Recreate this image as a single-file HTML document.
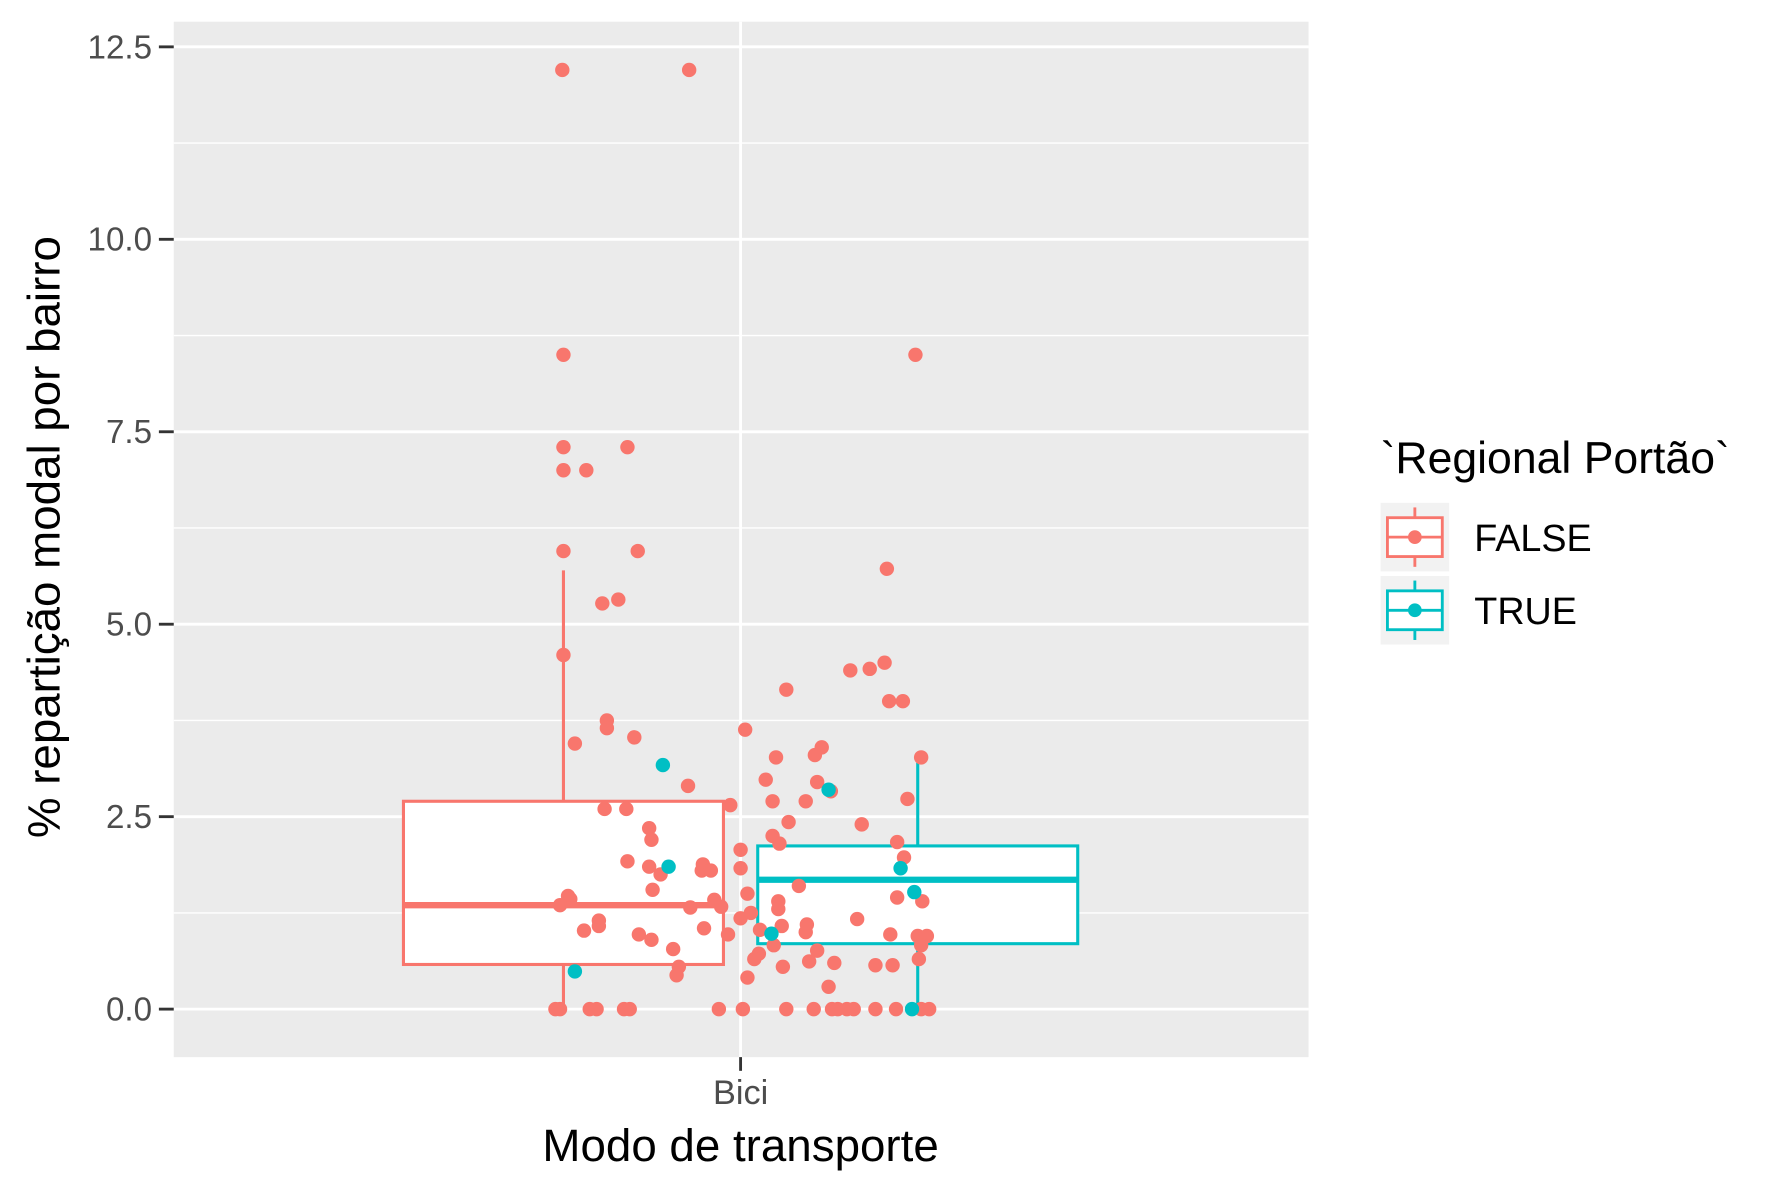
<!DOCTYPE html>
<html><head><meta charset="utf-8"><style>
html,body{margin:0;padding:0;background:#fff;}
svg{display:block;font-family:"Liberation Sans",Arial,sans-serif;}
</style></head><body>
<svg id="chart" width="1771" height="1181" viewBox="0 0 1549.6 1033.4" xmlns="http://www.w3.org/2000/svg">
<rect x="152" y="19" width="993" height="906" fill="#EBEBEB"/>
<g id="grid"></g>
<g id="boxes"></g>
<g id="points"></g>
<g id="axes"></g>
<text x="648" y="1016" font-size="40" text-anchor="middle" fill="#000">Modo de transporte</text>
<text transform="translate(52,470) rotate(-90)" font-size="40" text-anchor="middle" fill="#000">% repartição modal por bairro</text>
<g>
<text x="1208" y="414" font-size="39" fill="#000">`Regional Portão`</text>
<g>
<rect x="1208" y="440" width="60" height="60" fill="#F2F2F2"/>
<line x1="1238" y1="444" x2="1238" y2="496" stroke="#F8766D" stroke-width="2.5"/>
<rect x="1214" y="453" width="48" height="34" fill="#fff" stroke="#F8766D" stroke-width="2.5"/>
<line x1="1214" y1="470" x2="1262" y2="470" stroke="#F8766D" stroke-width="2.5"/>
<circle cx="1238" cy="470" r="6" fill="#F8766D"/>
<text x="1290" y="482" font-size="33" fill="#000">FALSE</text>
</g>
<g>
<rect x="1208" y="504" width="60" height="60" fill="#F2F2F2"/>
<line x1="1238" y1="508" x2="1238" y2="560" stroke="#00BFC4" stroke-width="2.5"/>
<rect x="1214" y="517" width="48" height="34" fill="#fff" stroke="#00BFC4" stroke-width="2.5"/>
<line x1="1214" y1="534" x2="1262" y2="534" stroke="#00BFC4" stroke-width="2.5"/>
<circle cx="1238" cy="534" r="6" fill="#00BFC4"/>
<text x="1290" y="546" font-size="33" fill="#000">TRUE</text>
</g>
</g>
</svg>
<script>
const yTicks = [0, 2.5, 5.0, 7.5, 10.0, 12.5];
const yTickLabels = ["0.0", "2.5", "5.0", "7.5", "10.0", "12.5"];
const groups = ["FALSE", "TRUE"];
const groupColors = ["#F8766D", "#00BFC4"];
const boxLower = [0, 0];
const boxQ1 = [0.58, 0.85];
const boxMedian = [1.35, 1.68];
const boxQ3 = [2.7, 2.12];
const boxUpper = [5.7, 3.2];
const falseX = [492,603,493,801,493,549,493,513,493,558,776,541,527,493,744,761,774,688,778,790,531,531,555,652,503,719,713,679,806,602,670,715,727,794,676,705,639,529,548,568,754,690,570,676,682,785,648,791,549,568,615,578,614,622,648,699,571,654,497,499,490,625,631,604,681,681,785,807,657,648,750,524,524,511,706,684,616,665,705,559,637,779,803,811,570,806,677,664,660,715,589,708,730,594,685,766,781,592,654,725,804,486,490,516,522,546,551,629,650,688,712,728,733,741,747,766,784,806,813];
const falseY = [12.2,12.2,8.5,8.5,7.3,7.3,7.0,7.0,5.95,5.95,5.72,5.32,5.27,4.6,4.4,4.42,4.5,4.15,4.0,4.0,3.75,3.65,3.53,3.63,3.45,3.4,3.3,3.27,3.27,2.9,2.98,2.95,2.83,2.73,2.7,2.7,2.65,2.6,2.6,2.35,2.4,2.43,2.2,2.25,2.15,2.17,2.07,1.97,1.92,1.85,1.88,1.75,1.8,1.8,1.83,1.6,1.55,1.5,1.47,1.43,1.35,1.42,1.33,1.32,1.4,1.3,1.45,1.4,1.25,1.18,1.17,1.15,1.08,1.02,1.1,1.08,1.05,1.03,1.0,0.97,0.97,0.97,0.95,0.95,0.9,0.83,0.83,0.72,0.65,0.76,0.78,0.62,0.6,0.55,0.55,0.57,0.57,0.44,0.41,0.29,0.65,0,0,0,0,0,0,0,0,0,0,0,0,0,0,0,0,0,0];
const trueX = [580,725,585,788,800,675,503,798];
const trueY = [3.17,2.85,1.85,1.83,1.52,0.98,0.49,0.0];

const NS = "http://www.w3.org/2000/svg";
const yScale = v => 883 - v * (842 / 12.5);
const boxCenter = i => 493 + i * 310;
const boxHalf = 140;
function mk(tag, attrs, parent) {
  const e = document.createElementNS(NS, tag);
  for (const k in attrs) e.setAttribute(k, attrs[k]);
  parent.appendChild(e);
  return e;
}
const grid = document.getElementById("grid");
for (let i = 0; i < yTicks.length - 1; i++) {
  const m = (yTicks[i] + yTicks[i + 1]) / 2;
  const l = mk("line", {x1: 152, x2: 1145, y1: yScale(m), y2: yScale(m), stroke: "#fff", "stroke-width": 1.2}, grid);
  
  
}
yTicks.forEach(t => {
  const l = mk("line", {x1: 152, x2: 1145, y1: yScale(t), y2: yScale(t), stroke: "#fff", "stroke-width": 2.5}, grid);
  
  
});
const vg = mk("line", {x1: 648, x2: 648, y1: 19, y2: 925, stroke: "#fff", "stroke-width": 2.5}, grid);



const boxes = document.getElementById("boxes");
groups.forEach((g, i) => {
  const c = boxCenter(i), col = groupColors[i];
  const grp = mk("g", {}, boxes);
  
  
  mk("line", {x1: c, x2: c, y1: yScale(boxQ3[i]), y2: yScale(boxUpper[i]), stroke: col, "stroke-width": 2.7}, grp);
  mk("line", {x1: c, x2: c, y1: yScale(boxQ1[i]), y2: yScale(boxLower[i]), stroke: col, "stroke-width": 2.7}, grp);
  mk("rect", {x: c - boxHalf, y: yScale(boxQ3[i]), width: boxHalf * 2, height: yScale(boxQ1[i]) - yScale(boxQ3[i]), fill: "#fff", stroke: col, "stroke-width": 2.7}, grp);
  mk("line", {x1: c - boxHalf, x2: c + boxHalf, y1: yScale(boxMedian[i]), y2: yScale(boxMedian[i]), stroke: col, "stroke-width": 5.5}, grp);
});

const pts = document.getElementById("points");
falseX.forEach((x, i) => {
  const p = mk("circle", {cx: x, cy: yScale(falseY[i]), r: 6.3, fill: groupColors[0]}, pts);
  
  
});
trueX.forEach((x, i) => {
  const p = mk("circle", {cx: x, cy: yScale(trueY[i]), r: 6.3, fill: groupColors[1]}, pts);
  
  
});

const axes = document.getElementById("axes");
yTicks.forEach((t, i) => {
  const tk = mk("line", {x1: 139, x2: 152, y1: yScale(t), y2: yScale(t), stroke: "#333", "stroke-width": 2.5}, axes);
  
  
  const lb = mk("text", {x: 133, y: yScale(t) + 10, "font-size": 29, "text-anchor": "end", fill: "#4D4D4D"}, axes);
  lb.textContent = yTickLabels[i];
  
  
});
const xt = mk("line", {x1: 648, x2: 648, y1: 925, y2: 937, stroke: "#333", "stroke-width": 2.5}, axes);


const xl = mk("text", {x: 648, y: 966, "font-size": 30, "text-anchor": "middle", fill: "#4D4D4D"}, axes);
xl.textContent = "Bici";


</script>
</body></html>
